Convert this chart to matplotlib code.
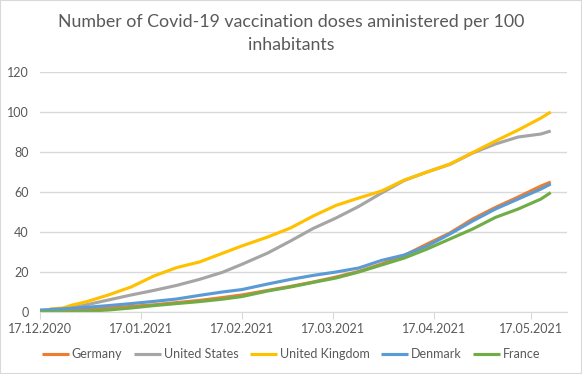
import numpy as np
import matplotlib
matplotlib.use("Agg")
import matplotlib.pyplot as plt
import matplotlib.dates as mdates
from matplotlib.patches import Rectangle

# sample dates (shared by all series)
dates = ["2020-12-17", "2020-12-20", "2020-12-24", "2020-12-27", "2020-12-31",
         "2021-01-07", "2021-01-14", "2021-01-21", "2021-01-28", "2021-02-04",
         "2021-02-11", "2021-02-17", "2021-02-25", "2021-03-04", "2021-03-11",
         "2021-03-18", "2021-03-25", "2021-04-01", "2021-04-08", "2021-04-15",
         "2021-04-22", "2021-04-29", "2021-05-06", "2021-05-13", "2021-05-20",
         "2021-05-23"]

germany = [0.3, 0.4, 0.8, 1.0, 1.3, 2.0, 2.8, 3.6, 4.7, 5.8, 7.2, 8.5, 10.8,
           12.8, 15.0, 17.5, 20.3, 24.0, 28.3, 34.0, 39.5, 46.5, 52.3, 57.5,
           63.0, 65.0]
united_states = [0.5, 0.8, 1.5, 2.2, 3.5, 6.0, 8.5, 10.8, 13.3, 16.3, 19.8,
                 23.8, 29.5, 35.5, 41.8, 47.0, 52.8, 59.5, 65.8, 70.0, 73.8,
                 79.5, 84.0, 87.5, 89.0, 90.5]
united_kingdom = [np.nan, 1.5, 2.0, 3.5, 5.0, 8.5, 12.5, 18.0, 22.2, 25.0,
                  29.3, 33.0, 37.5, 42.0, 48.0, 53.3, 57.0, 60.5, 66.0, 70.0,
                  74.0, 79.7, 85.5, 91.0, 97.0, 100.0]
denmark = [1.0, 1.2, 1.6, 1.9, 2.3, 3.2, 4.2, 5.3, 6.5, 8.3, 10.0, 11.2, 14.0,
           16.3, 18.3, 20.0, 22.0, 25.8, 28.5, 33.0, 39.0, 45.5, 51.5, 56.5,
           61.5, 64.0]
france = [0.0, 0.0, 0.1, 0.1, 0.4, 1.0, 2.0, 3.2, 4.2, 5.2, 6.4, 7.7, 10.5,
          12.5, 14.8, 17.0, 20.0, 23.5, 27.0, 31.5, 36.5, 41.5, 47.3, 51.5,
          56.5, 59.7]

series = [("Germany", germany, "#ED7D31"),
          ("United States", united_states, "#A5A5A5"),
          ("United Kingdom", united_kingdom, "#FFC000"),
          ("Denmark", denmark, "#5B9BD5"),
          ("France", france, "#70AD47")]

tick_dates = ["2020-12-17", "2021-01-17", "2021-02-17", "2021-03-17",
              "2021-04-17", "2021-05-17"]

plt.rcParams['font.family'] = ['Lato', 'DejaVu Sans']
txt = "#595959"
grid = "#d9d9d9"

fig = plt.figure(figsize=(5.82, 3.74), dpi=100)
ax = fig.add_axes([40 / 582, 1 - 312 / 374, 527 / 582, 240 / 374])

x = np.array(dates, dtype="datetime64[D]")
for name, vals, col in series:
    ax.plot(x, vals, color=col, lw=2.25, label=name, solid_capstyle="butt")

start = np.datetime64("2020-12-17")
ax.set_xlim(start, start + np.timedelta64(162, "D"))
ax.set_ylim(0, 120)
ax.set_yticks(range(0, 121, 20))
ax.set_xticks(np.array(tick_dates, dtype="datetime64[D]"))
ax.xaxis.set_major_formatter(mdates.DateFormatter("%d.%m.%Y"))

ax.grid(axis="y", color=grid, lw=1)
ax.set_axisbelow(True)
for s in ["top", "right", "left"]:
    ax.spines[s].set_visible(False)
ax.spines["bottom"].set_color(grid)
ax.tick_params(axis="y", length=0, labelsize=9, labelcolor=txt, pad=8)
ax.tick_params(axis="x", length=5, color=grid, labelsize=9, labelcolor=txt, pad=3)

fig.text(0.5, 1 - 22 / 374, "Number of Covid-19 vaccination doses aministered per 100",
         ha="center", va="center", fontsize=12.8, color=txt)
fig.text(0.5, 1 - 45 / 374, "inhabitants", ha="center", va="center",
         fontsize=12.8, color=txt)

fig.legend(loc="center", bbox_to_anchor=(0.5, 1 - 354 / 374), ncol=5,
           frameon=False, fontsize=9, labelcolor=txt, handlelength=2.2,
           handletextpad=0.2, columnspacing=0.9)

fig.patches.append(Rectangle((0, 0), 1, 1, transform=fig.transFigure,
                             fill=False, edgecolor=grid, lw=1.5))

fig.savefig("out.png", dpi=100)
